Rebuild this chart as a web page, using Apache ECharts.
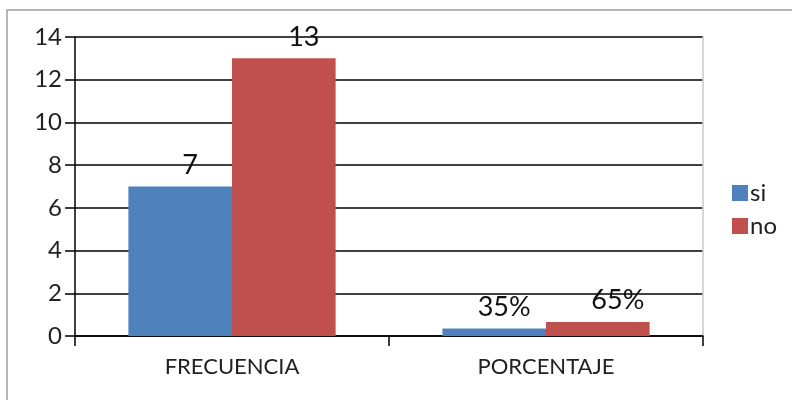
<!DOCTYPE html>
<html>
<head>
<meta charset="utf-8">
<script src="https://cdn.jsdelivr.net/npm/echarts@6/dist/echarts.min.js"></script>
<style>
html,body{margin:0;padding:0;background:#fff;}
#chart{width:792px;height:400px;}
</style>
</head>
<body>
<div id="chart"></div>
<script>
const categories = ['FRECUENCIA', 'PORCENTAJE'];
const siValues = [7, 0.35];
const noValues = [13, 0.65];
const siLabels = ['7', '35%'];
const noLabels = ['13', '65%'];
const yTicks = [0, 2, 4, 6, 8, 10, 12, 14];

const FONT = 'Lato';
const chart = echarts.init(document.getElementById('chart'));
chart.setOption({
  animation: false,
  textStyle: { fontFamily: FONT },
  graphic: [{
    type: 'rect',
    shape: { x: 7, y: 10, width: 900, height: 500 },
    style: { fill: 'none', stroke: '#a0a0a0', lineWidth: 1.5 },
    silent: true
  }],
  grid: { left: 75, right: 89, top: 37, bottom: 64 },
  legend: {
    orient: 'vertical',
    left: 727,
    top: 176,
    itemWidth: 16,
    itemHeight: 16,
    itemGap: 9,
    icon: 'rect',
    textStyle: { fontFamily: FONT, fontSize: 24, color: '#222', padding: [0, 0, 0, -3] },
    data: ['si', 'no']
  },
  xAxis: {
    type: 'category',
    data: categories,
    axisLine: { lineStyle: { color: '#000', width: 1.5 } },
    axisTick: { show: true, length: 10, lineStyle: { color: '#000', width: 1.5 } },
    axisLabel: { fontFamily: FONT, fontSize: 22, color: '#222', margin: 20 },
    splitLine: { show: false }
  },
  yAxis: [{
    type: 'value',
    min: yTicks[0],
    max: yTicks[yTicks.length - 1],
    interval: 2,
    axisLine: { show: true, lineStyle: { color: '#000', width: 1.5 } },
    axisTick: { show: true, length: 10, lineStyle: { color: '#000', width: 1.5 } },
    axisLabel: { fontFamily: FONT, fontSize: 24, color: '#222', margin: 13 },
    splitLine: { show: true, lineStyle: { color: '#000', width: 1.5 } }
  }, {
    type: 'value',
    position: 'right',
    min: yTicks[0],
    max: yTicks[yTicks.length - 1],
    interval: 2,
    axisLine: { show: true, lineStyle: { color: '#c8c8c8', width: 1.5 } },
    axisTick: { show: false },
    axisLabel: { show: false },
    splitLine: { show: false }
  }],
  series: [{
    name: 'si',
    type: 'bar',
    data: siValues,
    barGap: '0%',
    barCategoryGap: '34%',
    itemStyle: { color: '#4F81BD' },
    label: {
      show: true,
      position: 'top',
      distance: 8,
      offset: [10, 0],
      fontFamily: FONT,
      fontSize: 27,
      color: '#111',
      formatter: p => siLabels[p.dataIndex]
    }
  }, {
    name: 'no',
    type: 'bar',
    data: noValues,
    barGap: '0%',
    barCategoryGap: '34%',
    itemStyle: { color: '#C0504D' },
    label: {
      show: true,
      position: 'top',
      distance: 8,
      offset: [20, 0],
      fontFamily: FONT,
      fontSize: 27,
      color: '#111',
      formatter: p => noLabels[p.dataIndex]
    }
  }]
});
</script>
</body>
</html>
